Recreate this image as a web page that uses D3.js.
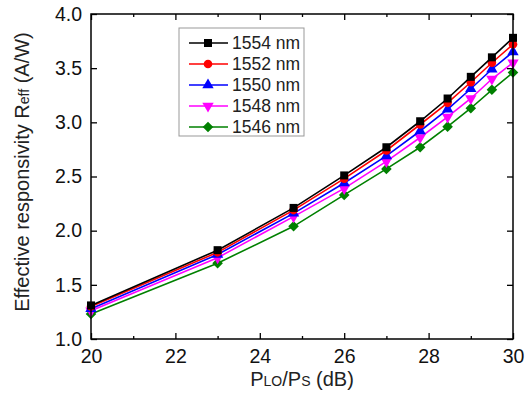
<!DOCTYPE html>
<html>
<head>
<meta charset="utf-8">
<script src="https://cdn.jsdelivr.net/npm/d3@7"></script>
<style>
  body { margin: 0; background: #fff; }
  text { font-family: "Liberation Sans", Arial, sans-serif; }
</style>
</head>
<body>
<div id="chart-area"></div>
<script>
// data
const powerRatio = [20, 23, 24.8, 26, 27, 27.8, 28.45, 29, 29.5, 30];
const wavelengths = ["1554 nm", "1552 nm", "1550 nm", "1548 nm", "1546 nm"];
const r1554 = [1.31, 1.82, 2.21, 2.51, 2.77, 3.01, 3.22, 3.42, 3.60, 3.78];
const r1552 = [1.30, 1.80, 2.19, 2.48, 2.74, 2.98, 3.18, 3.37, 3.55, 3.72];
const r1550 = [1.28, 1.78, 2.16, 2.44, 2.69, 2.92, 3.12, 3.31, 3.49, 3.65];
const r1548 = [1.26, 1.75, 2.13, 2.39, 2.64, 2.86, 3.05, 3.22, 3.40, 3.55];
const r1546 = [1.23, 1.70, 2.04, 2.33, 2.57, 2.77, 2.96, 3.13, 3.30, 3.46];
const xTicks = [20, 22, 24, 26, 28, 30];
const xMinorTicks = [21, 23, 25, 27, 29];
const yTicks = [1.0, 1.5, 2.0, 2.5, 3.0, 3.5, 4.0];

const seriesValues = [r1554, r1552, r1550, r1548, r1546];
const colors = ["#000000", "#ff0000", "#0000ff", "#ff00ff", "#008000"];
const shapes = ["square", "circle", "up", "down", "diamond"];

let margin = { top: 14, right: 12, bottom: 58, left: 91 },
  width = 525 - margin.left - margin.right,
  height = 397 - margin.top - margin.bottom;

let svg = d3
  .select("#chart-area")
  .append("svg")
  .attr("width", 525)
  .attr("height", 397)
  .append("g")
  .attr("transform", "translate(" + margin.left + "," + margin.top + ")");

let x = d3.scaleLinear().domain([20, 30]).range([0, width]);
let y = d3.scaleLinear().domain([1, 4]).range([height, 0]);

// marker shapes (origin style)
function markerPath(kind) {
  if (kind === "square") return d3.symbol().type(d3.symbolSquare).size(64)();
  if (kind === "circle") return d3.symbol().type(d3.symbolCircle).size(58)();
  if (kind === "up") return d3.symbol().type(d3.symbolTriangle).size(56)();
  if (kind === "down") return d3.symbol().type(d3.symbolTriangle).size(56)();
  return d3.symbol().type(d3.symbolSquare).size(56)();
}
function markerRot(kind) {
  if (kind === "down") return " rotate(180)";
  if (kind === "diamond") return " rotate(45)";
  return "";
}

let line = d3.line().x((d) => x(d[0])).y((d) => y(d[1]));

// draw bottom series first so the black one sits on top
for (let i = seriesValues.length - 1; i >= 0; i--) {
  let pts = powerRatio.map((p, j) => [p, seriesValues[i][j]]);
  svg.append("path")
    .datum(pts)
    .attr("d", line)
    .attr("fill", "none")
    .attr("stroke", colors[i])
    .attr("stroke-width", 1.6);
  svg.selectAll(".m" + i)
    .data(pts)
    .enter()
    .append("path")
    .attr("class", "m" + i)
    .attr("d", markerPath(shapes[i]))
    .attr("transform", (d) => "translate(" + x(d[0]) + "," + y(d[1]) + ")" + markerRot(shapes[i]))
    .attr("fill", colors[i]);
}

// axes, ticks inward on all four sides
let xAxis = d3.axisBottom(x).tickValues(xTicks).tickSize(-6).tickPadding(10).tickFormat(d3.format("d"));
let yAxis = d3.axisLeft(y).tickValues(yTicks).tickSize(-6).tickPadding(9).tickFormat(d3.format(".1f"));

svg.append("g").attr("transform", "translate(0," + height + ")").call(xAxis);
svg.append("g").attr("transform", "translate(0," + height + ")")
  .call(d3.axisBottom(x).tickValues(xMinorTicks).tickSize(-3).tickFormat(""));
svg.append("g").call(d3.axisTop(x).tickValues(xTicks).tickSize(-6).tickFormat(""));
svg.append("g").call(d3.axisTop(x).tickValues(xMinorTicks).tickSize(-3).tickFormat(""));
svg.append("g").call(yAxis);
svg.append("g").attr("transform", "translate(" + width + ",0)")
  .call(d3.axisRight(y).tickValues(yTicks).tickSize(-6).tickFormat(""));

svg.selectAll(".domain").remove();
svg.selectAll(".tick line").attr("stroke", "#000").attr("stroke-width", 1.3);
svg.selectAll(".tick text").attr("fill", "#111").style("font-size", "19.5px");

svg.append("rect")
  .attr("width", width)
  .attr("height", height)
  .attr("fill", "none")
  .attr("stroke", "#000")
  .attr("stroke-width", 1.5);

// axis titles
let xt = svg.append("text")
  .attr("x", width / 2)
  .attr("y", height + 47)
  .attr("text-anchor", "middle")
  .style("font-size", "20px")
  .attr("fill", "#222");
xt.append("tspan").text("P");
xt.append("tspan").text("LO").style("font-size", "14px");
xt.append("tspan").text("/P");
xt.append("tspan").text("S").style("font-size", "14px");
xt.append("tspan").text(" (dB)");

let yt = svg.append("text")
  .attr("transform", "translate(" + (29 - margin.left) + "," + (172 - margin.top) + ") rotate(-90)")
  .attr("text-anchor", "middle")
  .style("font-size", "20px")
  .attr("fill", "#222");
yt.append("tspan").text("Effective responsivity R");
yt.append("tspan").text("eff").style("font-size", "14px");
yt.append("tspan").text(" (A/W)");

// legend
let lg = svg.append("g").attr("transform", "translate(" + (179 - margin.left) + "," + (28 - margin.top) + ")");
lg.append("rect")
  .attr("width", 125)
  .attr("height", 108)
  .attr("fill", "#fff")
  .attr("stroke", "#999")
  .attr("stroke-width", 1);
wavelengths.forEach((w, i) => {
  let yy = 15 + i * 21;
  lg.append("line")
    .attr("x1", 10).attr("x2", 49)
    .attr("y1", yy).attr("y2", yy)
    .attr("stroke", colors[i])
    .attr("stroke-width", 1.6);
  lg.append("path")
    .attr("d", markerPath(shapes[i]))
    .attr("transform", "translate(29," + yy + ")" + markerRot(shapes[i]))
    .attr("fill", colors[i]);
  lg.append("text")
    .attr("x", 53)
    .attr("y", yy + 6)
    .style("font-size", "17.5px")
    .attr("fill", "#222")
    .text(w);
});
</script>
</body>
</html>
